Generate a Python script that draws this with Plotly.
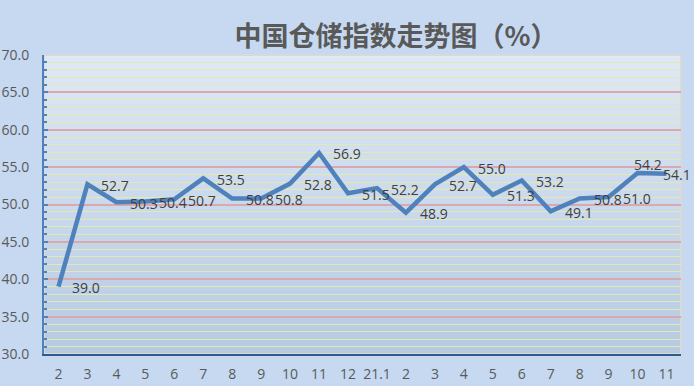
import plotly.graph_objects as go

categories = ["2", "3", "4", "5", "6", "7", "8", "9", "10", "11", "12", "21.1",
              "2", "3", "4", "5", "6", "7", "8", "9", "10", "11"]
values = [39.0, 52.7, 50.3, 50.4, 50.7, 53.5, 50.8, 50.8, 52.8, 56.9, 51.5, 52.2,
          48.9, 52.7, 55.0, 51.3, 53.2, 49.1, 50.8, 51.0, 54.2, 54.1]
labels = [f"{v:.1f}" for v in values]
title_text = "中国仓储指数走势图（%）"

xpos = list(range(len(categories)))
FONT = "Open Sans, Noto Sans, sans-serif"

fig = go.Figure()
fig.add_trace(go.Scatter(
    x=xpos, y=values, mode="lines",
    line=dict(color="#4F81BD", width=4.5),
    hoverinfo="skip", showlegend=False,
))

# label offsets (pixels): default right of point; last two nudged to fit like the original
offsets = {20: (-6, 9), 21: (-6, -1)}
annotations = []
for i, (x, v, t) in enumerate(zip(xpos, values, labels)):
    dx, dy = offsets.get(i, (12, -1))
    annotations.append(dict(x=x, y=v, xref="x", yref="y", text=t, showarrow=False,
                            xanchor="left", yanchor="middle", xshift=dx, yshift=dy,
                            font=dict(family=FONT, size=14, color="#404040")))

# gradient background strips
shapes = []
n = 60
top = (0xDF, 0xE8, 0xF5)
bot = (0xB6, 0xCA, 0xE3)
for i in range(n):
    t = i / (n - 1)
    c = tuple(round(top[k] + (bot[k] - top[k]) * t) for k in range(3))
    shapes.append(dict(type="rect", xref="x domain", yref="y domain",
                       x0=0, x1=1, y0=1 - (i + 1) / n, y1=1 - i / n,
                       fillcolor="rgb(%d,%d,%d)" % c, line=dict(width=0),
                       layer="below"))
shapes.append(dict(type="rect", xref="paper", yref="paper", x0=0, x1=1, y0=0, y1=1,
                   line=dict(color="#D9D9D9", width=2), layer="below"))

fig.update_layout(
    width=694, height=386,
    margin=dict(l=44, r=13, t=55, b=32, autoexpand=False),
    paper_bgcolor="#C6D9F1",
    plot_bgcolor="#C6D9F1",
    shapes=shapes,
    annotations=annotations,
    title=dict(text="<b>" + title_text + "</b>", x=396 / 694, xanchor="center",
               y=1 - 37 / 386, yanchor="middle", automargin=False,
               font=dict(family="Noto Sans CJK SC", size=27, color="#595959")),
    xaxis=dict(range=[-0.5, len(categories) - 0.5], tickvals=xpos, ticktext=categories,
               showgrid=False, zeroline=False, showline=True, automargin=False,
               linecolor="#2E5C8A", linewidth=2, ticks="",
               tickfont=dict(family=FONT, size=14, color="#595959"),
               ticklabelstandoff=6),
    yaxis=dict(range=[30, 70], dtick=5, tickformat=".1f", automargin=False,
               showgrid=True, gridcolor="#D9A9AC", gridwidth=1.5,
               zeroline=False, showline=True, linecolor="#4F81BD", linewidth=2,
               ticks="inside", ticklen=4, tickcolor="#4F81BD", tickwidth=1.5,
               minor=dict(dtick=1, showgrid=True, gridcolor="#E2EAB3", gridwidth=1,
                          ticks="inside", ticklen=3, tickcolor="#4F81BD"),
               tickfont=dict(family=FONT, size=14, color="#595959"),
               ticklabelstandoff=10),
)

fig.write_html("out.html", config={"displayModeBar": False},
               post_script="document.body.style.margin='0';document.body.style.overflow='hidden';")
